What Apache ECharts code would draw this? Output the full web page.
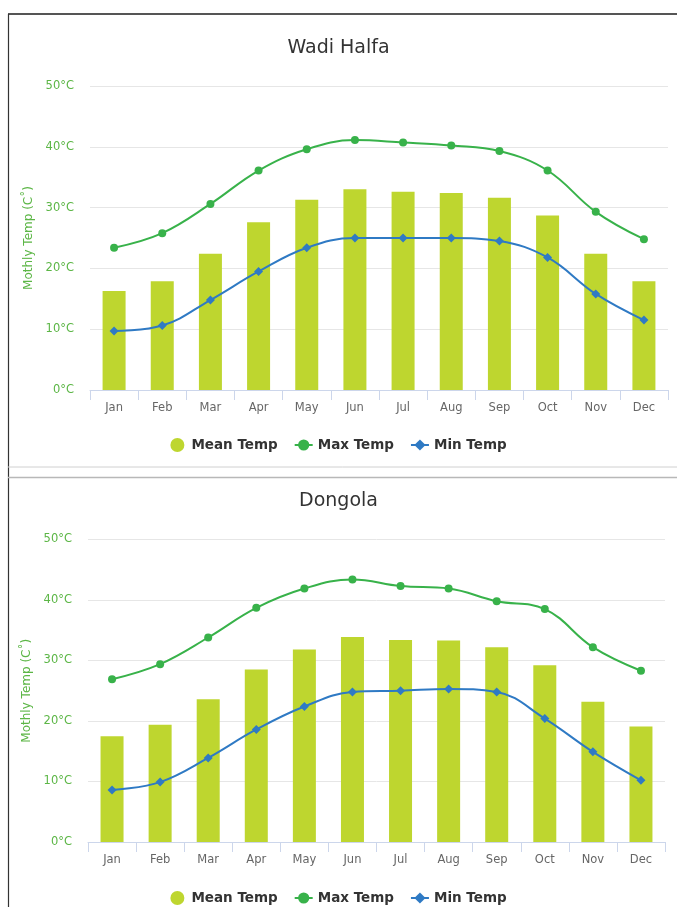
<!DOCTYPE html>
<html>
<head>
<meta charset="utf-8">
<script src="https://cdn.jsdelivr.net/npm/echarts@6/dist/echarts.min.js"></script>
<style>
html,body{margin:0;padding:0;background:#fff;}
#c{width:677px;height:907px;}
</style>
</head>
<body>
<div id="c"></div>
<script>
const months = ['Jan','Feb','Mar','Apr','May','Jun','Jul','Aug','Sep','Oct','Nov','Dec'];
const titles = ['Wadi Halfa', 'Dongola'];
const seriesNames = ['Mean Temp', 'Max Temp', 'Min Temp'];
const wadiMean = [16.3, 17.9, 22.4, 27.6, 31.3, 33.0, 32.6, 32.4, 31.6, 28.7, 22.4, 17.9];
const wadiMax  = [23.4, 25.8, 30.6, 36.1, 39.6, 41.1, 40.7, 40.2, 39.3, 36.1, 29.3, 24.8];
const wadiMin  = [9.7, 10.6, 14.8, 19.5, 23.4, 25.0, 25.0, 25.0, 24.5, 21.8, 15.8, 11.5];
const dongMean = [17.5, 19.4, 23.6, 28.5, 31.8, 33.9, 33.4, 33.3, 32.2, 29.2, 23.2, 19.1];
const dongMax  = [26.9, 29.4, 33.8, 38.7, 41.9, 43.4, 42.3, 41.9, 39.8, 38.5, 32.2, 28.3];
const dongMin  = [8.6, 9.9, 13.9, 18.6, 22.4, 24.8, 25.0, 25.3, 24.8, 20.4, 14.9, 10.2];

const GREEN_LABEL = '#5cb646';
const BAR = '#bed62f';
const MAXC = '#38b24a';
const MINC = '#2f7ac4';
const AXIS = '#ccd6eb';

const chart = echarts.init(document.getElementById('c'), null, {renderer: 'canvas'});

function xAxis(i) {
  return {
    type: 'category', gridIndex: i, data: months, boundaryGap: true,
    axisLine: {lineStyle: {color: AXIS, width: 1}},
    axisTick: {show: true, interval: 0, length: 10, lineStyle: {color: AXIS}},
    axisLabel: {color: '#666', fontSize: 11.5, fontFamily: 'DejaVu Sans', margin: 12}
  };
}
function yAxis(i) {
  return {
    type: 'value', gridIndex: i, min: 0, max: 50, interval: 10,
    name: 'Mothly Temp (C\u02da)', nameLocation: 'middle', nameGap: 52,
    nameTextStyle: {color: GREEN_LABEL, fontSize: 12, fontFamily: 'DejaVu Sans'},
    axisLine: {show: false}, axisTick: {show: false},
    axisLabel: {color: GREEN_LABEL, fontSize: 11.5, fontFamily: 'DejaVu Sans', margin: 16,
      formatter: v => v + '\u00b0C'},
    splitLine: {lineStyle: {color: '#e6e6e6', width: 1}}
  };
}
function seriesFor(i, mean, mx, mn) {
  return [
    {name: seriesNames[0], type: 'bar', xAxisIndex: i, yAxisIndex: i, data: mean,
      barWidth: 23, itemStyle: {color: BAR}},
    {name: seriesNames[1], type: 'line', xAxisIndex: i, yAxisIndex: i, data: mx,
      smooth: 0.4, symbol: 'circle', symbolSize: 8, showSymbol: true,
      lineStyle: {color: MAXC, width: 2}, itemStyle: {color: MAXC}},
    {name: seriesNames[2], type: 'line', xAxisIndex: i, yAxisIndex: i, data: mn,
      smooth: 0.4, symbol: 'diamond', symbolSize: 9, showSymbol: true,
      lineStyle: {color: MINC, width: 2}, itemStyle: {color: MINC}}
  ];
}
function legend(top) {
  return {
    data: [
      {name: seriesNames[0], icon: 'circle'},
      {name: seriesNames[1]},
      {name: seriesNames[2]}
    ],
    left: 'center', top: top, itemGap: 16, itemWidth: 18, itemHeight: 14,
    textStyle: {color: '#333', fontSize: 13.5, fontWeight: 'bold', fontFamily: 'DejaVu Sans'}
  };
}

const option = {
  animation: false,
  backgroundColor: '#fff',
  title: [
    {text: titles[0], left: 'center', top: 34, textStyle: {color: '#333', fontSize: 19, fontWeight: 'normal', fontFamily: 'DejaVu Sans'}},
    {text: titles[1], left: 'center', top: 487, textStyle: {color: '#333', fontSize: 19, fontWeight: 'normal', fontFamily: 'DejaVu Sans'}}
  ],
  legend: [legend(433), legend(886)],
  grid: [
    {left: 90, right: 9, top: 86, height: 304},
    {left: 88, right: 12, top: 539.5, height: 302.5}
  ],
  xAxis: [xAxis(0), xAxis(1)],
  yAxis: [yAxis(0), yAxis(1)],
  series: [].concat(seriesFor(0, wadiMean, wadiMax, wadiMin), seriesFor(1, dongMean, dongMax, dongMin)),
  graphic: [
    {type: 'line', shape: {x1: 8, y1: 14, x2: 677, y2: 14}, style: {stroke: '#555', lineWidth: 2}},
    {type: 'line', shape: {x1: 8.5, y1: 14, x2: 8.5, y2: 907}, style: {stroke: '#333', lineWidth: 1.2}},
    {type: 'line', shape: {x1: 8, y1: 467, x2: 677, y2: 467}, style: {stroke: '#d0d0d0', lineWidth: 1}},
    {type: 'line', shape: {x1: 8, y1: 477.5, x2: 677, y2: 477.5}, style: {stroke: '#b8b8b8', lineWidth: 1.5}}
  ]
};
chart.setOption(option);
</script>
</body>
</html>
